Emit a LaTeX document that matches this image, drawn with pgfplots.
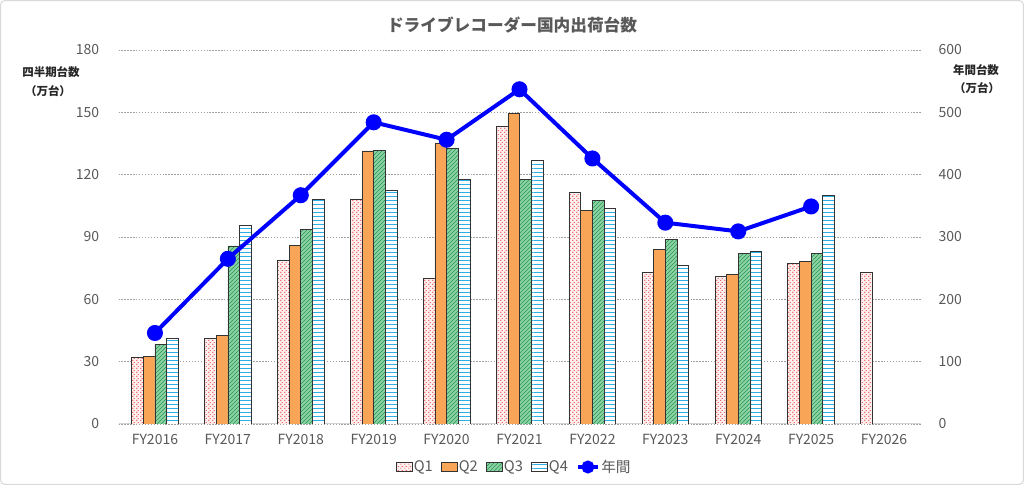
\documentclass[border=0pt]{standalone}
\usepackage{fontspec}
\setmainfont{Noto Sans CJK JP}
\usepackage{pgfplots}
\usepackage{pgfplotstable}
\pgfplotsset{compat=1.18}
\usetikzlibrary{patterns}
\definecolor{txt}{HTML}{595959}
\definecolor{lbl}{HTML}{262626}
\definecolor{qone}{RGB}{230,40,40}
\definecolor{qonebg}{RGB}{255,240,240}
\definecolor{qtwo}{RGB}{248,165,88}
\definecolor{qthreebg}{RGB}{140,210,165}
\definecolor{qthree}{RGB}{40,150,80}
\definecolor{qfour}{RGB}{45,175,230}
\definecolor{gridc}{RGB}{160,160,160}
\pgfdeclarepatternformonly{reddash}{\pgfqpoint{0pt}{0pt}}{\pgfqpoint{3pt}{3pt}}{\pgfqpoint{3pt}{3pt}}{%
  \pgfsetlinewidth{0.6pt}%
  \pgfpathmoveto{\pgfqpoint{0pt}{0.75pt}}\pgfpathlineto{\pgfqpoint{1.3pt}{0.75pt}}%
  \pgfpathmoveto{\pgfqpoint{1.5pt}{2.25pt}}\pgfpathlineto{\pgfqpoint{2.8pt}{2.25pt}}%
  \pgfusepath{stroke}}
\pgfplotstableread{
x q1 q2 q3 q4 yr
0 32.2 32.7 38.5 41.4 146
1 41.2 42.7 85.7 95.6 265
2 78.6 86.1 93.7 108.2 367
3 108.3 131.4 131.7 112.5 484
4 70.3 135.1 132.5 117.8 456
5 143.1 149.3 117.9 126.7 537
6 111.3 102.7 107.5 103.8 426
7 73.0 84.2 89.0 76.2 323
8 70.9 71.9 82.1 83.3 309
9 77.3 78.4 82.0 110.2 349
10 72.8 nan nan nan nan
}\data
\pgfplotsset{
  barleg/.style={legend image code/.code={\draw[#1] (0pt,-3.2pt) rectangle (12pt,3.4pt);}},
  lineleg/.style={legend image code/.code={\draw[#1, mark=none] (0pt,0pt) -- (15pt,0pt); \fill[#1] (7.5pt,0pt) circle[radius=3.3pt];}},
}
\begin{document}
\begin{tikzpicture}
\useasboundingbox (0,0) rectangle (768pt,363.75pt);
\draw[gray!30, line width=0.8pt, rounded corners=3pt] (0.5pt,0.5pt) rectangle (767.5pt,363.25pt);
\pgfplotsset{
  common/.style={
    at={(88.875pt,45.75pt)}, anchor=south west,
    scale only axis, width=601.5pt, height=280.5pt,
    xmin=-0.5, xmax=10.5,
    axis line style={draw=none},
    major tick length=0pt,
    tick label style={font=\fontsize{10.5}{12}\selectfont, text=txt},
    /pgf/number format/assume math mode=true,
    unbounded coords=discard,
  },
}
\begin{axis}[common,
  ymin=0, ymax=180, ytick={0,30,...,180},
  ymajorgrids, grid style={gridc, line width=0.5pt, dash pattern=on 1pt off 1.2pt},
  xtick={0,...,10},
  xticklabels={FY2016,FY2017,FY2018,FY2019,FY2020,FY2021,FY2022,FY2023,FY2024,FY2025,FY2026},
  xticklabel style={yshift=-4pt},
  yticklabel style={xshift=-11pt},
  legend style={at={(0.493,-0.115)}, anchor=center, draw=none, fill=none,
    font=\fontsize{11}{12}\selectfont, text=txt, legend columns=5,
    /tikz/every even column/.style={column sep=5pt},
    nodes={inner sep=1pt},
    inner sep=1pt},
  legend cell align=left,
]
\draw[gray!35, line width=0.8pt] (rel axis cs:0,0) -- (rel axis cs:1,0);
\addplot[ybar, bar width=0.16, bar shift=-0.24, draw=black!80, line width=0.5pt,
  fill=qonebg, postaction={pattern=reddash, pattern color=qone}, barleg]
  table[x=x, y=q1] {\data};
\addlegendentry{Q1}
\addplot[ybar, bar width=0.16, bar shift=-0.08, draw=black!80, line width=0.5pt,
  fill=qtwo, barleg]
  table[x=x, y=q2] {\data};
\addlegendentry{Q2}
\addplot[ybar, bar width=0.16, bar shift=0.08, draw=black!80, line width=0.5pt,
  fill=qthreebg, postaction={pattern=north east lines, pattern color=qthree}, barleg]
  table[x=x, y=q3] {\data};
\addlegendentry{Q3}
\addplot[ybar, bar width=0.16, bar shift=0.24, draw=black!80, line width=0.5pt,
  fill=white, postaction={pattern=horizontal lines, pattern color=qfour}, barleg]
  table[x=x, y=q4] {\data};
\addlegendentry{Q4}
\addlegendimage{blue, line width=3pt, lineleg}
\addlegendentry{年間}
\end{axis}
\begin{axis}[common,
  ymin=0, ymax=600, ytick={0,100,...,600},
  axis y line*=right, axis x line=none,
  yticklabel style={anchor=west, xshift=10pt},
  xtick=\empty,
]
\addplot[blue, line width=3pt, mark=*, mark size=4.5pt] table[x=x, y=yr] {\data};
\end{axis}
\node[text=txt, font=\fontsize{12.5}{14}\selectfont\bfseries] at (384pt,345pt) {ドライブレコーダー国内出荷台数};
\node[text=lbl, font=\fontsize{8.6}{10}\selectfont\bfseries] at (38.25pt,309.75pt) {四半期台数};
\node[text=lbl, font=\fontsize{8.6}{10}\selectfont\bfseries] at (36pt,295.5pt) {（万台）};
\node[text=lbl, font=\fontsize{8.6}{10}\selectfont\bfseries] at (732pt,311.25pt) {年間台数};
\node[text=lbl, font=\fontsize{8.6}{10}\selectfont\bfseries] at (732.75pt,297.75pt) {（万台）};
\end{tikzpicture}
\end{document}
